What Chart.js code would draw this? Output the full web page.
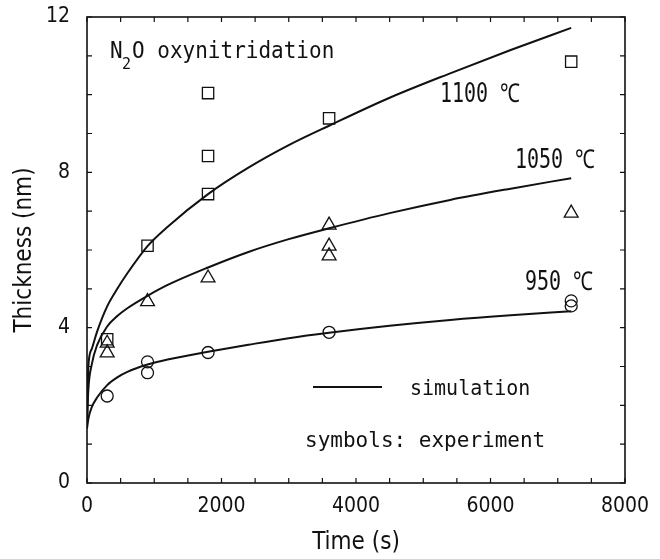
<html>
<head>
    <script src="https://cdn.jsdelivr.net/npm/chart.js@4.4.0/dist/chart.umd.min.js"></script>
</head>
<body style="margin:0; background-color:#ffffff;">
    <div style="width:660px; height:559px;">
        <canvas id="chart"></canvas>
    </div>

    <script>
        // simulation curves (time in s, thickness in nm)
        const simTime = [0, 20, 70, 150, 300, 450, 600, 900, 1200, 1800, 2400, 3000, 3600, 4500, 5400, 6300, 7200];
        const sim1100 = [1.5, 3.0, 3.45, 3.9, 4.55, 5.0, 5.4, 6.1, 6.6, 7.44, 8.12, 8.7, 9.2, 9.92, 10.55, 11.15, 11.72];
        const sim1050 = [1.5, 2.4, 3.05, 3.55, 4.03, 4.3, 4.5, 4.82, 5.1, 5.55, 5.95, 6.28, 6.56, 6.95, 7.29, 7.58, 7.85];
        const sim950 = [1.4, 1.65, 1.95, 2.2, 2.52, 2.72, 2.86, 3.05, 3.18, 3.38, 3.56, 3.73, 3.87, 4.05, 4.2, 4.32, 4.42];

        // experiment points
        const expTime1100 = [300, 900, 1800, 1800, 1800, 3600, 7200];
        const exp1100 = [3.7, 6.11, 7.44, 8.42, 10.04, 9.39, 10.85];
        const expTime1050 = [300, 300, 900, 1800, 3600, 3600, 3600, 7200];
        const exp1050 = [3.6, 3.35, 4.67, 5.28, 6.64, 6.1, 5.85, 6.95];
        const expTime950 = [300, 900, 900, 1800, 3600, 7200, 7200];
        const exp950 = [2.24, 3.12, 2.84, 3.36, 3.88, 4.69, 4.56];

        const xTicks = [0, 2000, 4000, 6000, 8000];
        const yTicks = [0, 4, 8, 12];

        const toXY = (xs, ys) => xs.map((t, i) => ({ x: t, y: ys[i] }));

        // text placed in data coordinates
        const notes = [
            { text: '1100 \u2103', t: 5249, v: 9.81, size: 20, sy: 1.3 },
            { text: '1050 \u2103', t: 6364, v: 8.11, size: 20, sy: 1.3 },
            { text: '950 \u2103', t: 6513, v: 4.97, size: 20, sy: 1.3 },
            { text: 'simulation', t: 4803, v: 2.27, size: 20, sy: 1.05 },
            { text: 'symbols: experiment', t: 3242, v: 0.93, size: 21, sy: 1.05 }
        ];

        const MONO = '"DejaVu Sans Mono"';

        const framePlugin = {
            id: 'frame',
            afterDraw(chart) {
                const { ctx, chartArea: a, scales: { x, y } } = chart;
                ctx.save();
                ctx.strokeStyle = '#111';
                ctx.lineWidth = 1.6;
                ctx.strokeRect(a.left, a.top, a.right - a.left, a.bottom - a.top);

                ctx.lineWidth = 1.2;
                ctx.beginPath();
                for (let t = 0; t <= 8000; t += 500) {
                    const px = x.getPixelForValue(t);
                    ctx.moveTo(px, a.bottom); ctx.lineTo(px, a.bottom - 5);
                    ctx.moveTo(px, a.top); ctx.lineTo(px, a.top + 5);
                }
                for (let v = 0; v <= 12; v += 1) {
                    const py = y.getPixelForValue(v);
                    ctx.moveTo(a.left, py); ctx.lineTo(a.left + 5, py);
                    ctx.moveTo(a.right, py); ctx.lineTo(a.right - 5, py);
                }
                ctx.stroke();

                ctx.fillStyle = '#111';
                ctx.textBaseline = 'alphabetic';
                ctx.textAlign = 'left';
                const txt = (s, px, py, size, sy) => {
                    ctx.save();
                    ctx.font = size + 'px ' + MONO;
                    ctx.translate(px, py);
                    ctx.scale(1, sy);
                    ctx.fillText(s, 0, 0);
                    ctx.restore();
                };

                // N2O oxynitridation with subscript
                const nx = x.getPixelForValue(342), ny = y.getPixelForValue(10.94);
                txt('N', nx, ny, 21, 1.1);
                txt('2', nx + 12, ny + 11, 15, 1.1);
                txt('O oxynitridation', nx + 22, ny, 21, 1.1);

                for (const n of notes) {
                    txt(n.text, x.getPixelForValue(n.t), y.getPixelForValue(n.v), n.size, n.sy);
                }

                // legend line
                ctx.lineWidth = 2;
                ctx.beginPath();
                ctx.moveTo(x.getPixelForValue(3361), y.getPixelForValue(2.47));
                ctx.lineTo(x.getPixelForValue(4387), y.getPixelForValue(2.47));
                ctx.stroke();
                ctx.restore();
            }
        };

        const lineSet = (data) => ({
            type: 'line',
            data: toXY(simTime, data),
            borderColor: '#111',
            borderWidth: 2,
            pointRadius: 0,
            fill: false,
            cubicInterpolationMode: 'monotone'
        });

        const pointSet = (xs, ys, style, r) => ({
            type: 'scatter',
            data: toXY(xs, ys),
            pointStyle: style,
            pointRadius: r,
            pointBorderColor: '#111',
            pointBackgroundColor: 'rgba(0,0,0,0)',
            pointBorderWidth: 1.3,
            showLine: false
        });

        new Chart(document.getElementById('chart'), {
            data: {
                datasets: [
                    lineSet(sim1100),
                    lineSet(sim1050),
                    lineSet(sim950),
                    pointSet(expTime1100, exp1100, 'rect', 8),
                    pointSet(expTime1050, exp1050, 'triangle', 8),
                    pointSet(expTime950, exp950, 'circle', 6)
                ]
            },
            options: {
                responsive: true,
                maintainAspectRatio: false,
                animation: false,
                layout: { padding: { left: 0, right: 35, top: 17, bottom: 0 } },
                plugins: {
                    legend: { display: false },
                    tooltip: { enabled: false }
                },
                scales: {
                    x: {
                        type: 'linear',
                        min: 0,
                        max: 8000,
                        afterBuildTicks: (s) => { s.ticks = xTicks.map(v => ({ value: v })); },
                        afterFit: (s) => { s.height = 76; s.paddingLeft = 0; s.paddingRight = 0; },
                        grid: { display: false, drawTicks: false },
                        border: { display: false },
                        ticks: {
                            padding: 11,
                            color: '#111',
                            callback: (v) => String(v),
                            font: { family: 'DejaVu Sans Condensed', size: 21 }
                        },
                        title: {
                            display: true,
                            text: 'Time (s)',
                            color: '#111',
                            padding: { top: 0, bottom: 2 },
                            font: { family: 'DejaVu Sans Condensed', size: 24 }
                        }
                    },
                    y: {
                        type: 'linear',
                        min: 0,
                        max: 12,
                        afterBuildTicks: (s) => { s.ticks = yTicks.map(v => ({ value: v })); },
                        afterFit: (s) => { s.width = 87; s.paddingTop = 0; s.paddingBottom = 0; },
                        grid: { display: false, drawTicks: false },
                        border: { display: false },
                        ticks: {
                            padding: 17,
                            color: '#111',
                            callback: (v) => String(v),
                            font: { family: 'DejaVu Sans Condensed', size: 21 }
                        },
                        title: {
                            display: true,
                            text: 'Thickness (nm)',
                            color: '#111',
                            padding: { top: 10, bottom: 0 },
                            font: { family: 'DejaVu Sans Condensed', size: 24 }
                        }
                    }
                }
            },
            plugins: [framePlugin]
        });
    </script>
</body>
</html>
